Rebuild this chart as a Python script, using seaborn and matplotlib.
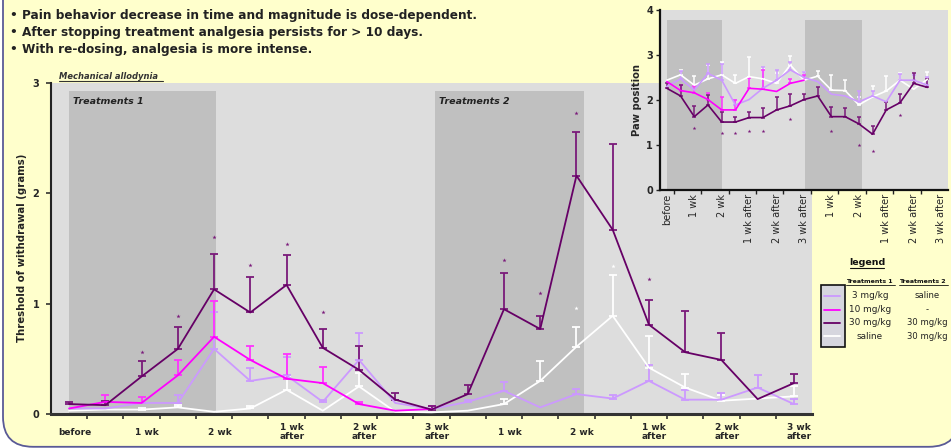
import numpy as np
import pandas as pd
import matplotlib
matplotlib.use("Agg")
import matplotlib.pyplot as plt
import seaborn as sns
from matplotlib.patches import FancyBboxPatch, Rectangle
from matplotlib.lines import Line2D

nan = np.nan

# ---------------- data ----------------
groups = ["saline", "3 mg/kg", "10 mg/kg", "30 mg/kg"]
colors = {"3 mg/kg": "#CC99FF", "10 mg/kg": "#FF00FF", "30 mg/kg": "#660066", "saline": "#FFFFFF"}
err_colors = {"3 mg/kg": "#CC99FF", "10 mg/kg": "#FF33FF", "30 mg/kg": "#7A1A7A", "saline": "#FFFFFF"}

main_labels = ["before", "1 wk", "2 wk", "1 wk\nafter", "2 wk\nafter", "3 wk\nafter",
               "1 wk", "2 wk", "1 wk\nafter", "2 wk\nafter", "3 wk\nafter"]
inset_labels = ["before", "1 wk", "2 wk", "1 wk after", "2 wk after", "3 wk after",
                "1 wk", "2 wk", "1 wk after", "2 wk after", "3 wk after"]

# Mechanical allodynia (grams) - mean and top of error bar
main_mean = {
    "30 mg/kg": [0.09, 0.08, 0.34, 0.59, 1.13, 0.92, 1.17, 0.60, 0.40, 0.13, 0.04,
                 0.18, 0.95, 0.77, 2.16, 1.67, 0.81, 0.56, 0.49, 0.135, 0.28],
    "10 mg/kg": [0.05, 0.11, 0.10, 0.35, 0.70, 0.49, 0.32, 0.28, 0.09, 0.03, 0.045,
                 nan, nan, nan, nan, nan, nan, nan, nan, nan, nan],
    "3 mg/kg":  [0.05, 0.05, 0.10, 0.10, 0.59, 0.30, 0.35, 0.11, 0.49, 0.10, 0.045,
                 0.11, 0.21, 0.06, 0.18, 0.14, 0.30, 0.13, 0.13, 0.24, 0.09],
    "saline":   [0.03, 0.04, 0.04, 0.06, 0.02, 0.05, 0.22, 0.03, 0.25, 0.02, 0.015,
                 0.03, 0.09, 0.30, 0.61, 0.89, 0.42, 0.24, 0.12, 0.14, 0.16],
}
main_top = {
    "30 mg/kg": [0.11, 0.12, 0.48, 0.79, 1.45, 1.24, 1.44, 0.77, 0.62, 0.19, 0.07,
                 0.26, 1.28, 0.89, 2.56, 2.45, 1.03, 0.93, 0.73, nan, 0.36],
    "10 mg/kg": [nan, 0.17, 0.15, 0.49, 1.02, 0.62, 0.54, 0.43, 0.11, nan, 0.07,
                 nan, nan, nan, nan, nan, nan, nan, nan, nan, nan],
    "3 mg/kg":  [nan, nan, nan, 0.17, 0.92, 0.42, 0.52, 0.13, 0.73, nan, nan,
                 0.13, 0.29, nan, 0.23, 0.17, 0.44, 0.22, 0.19, 0.35, 0.14],
    "saline":   [nan, nan, 0.05, 0.08, nan, 0.07, 0.34, nan, 0.37, nan, nan,
                 nan, 0.14, 0.48, 0.79, 1.26, 0.71, 0.36, 0.17, nan, 0.25],
}
main_star_dark_x = [2, 3, 4, 5, 6, 7, 12, 13, 14, 16]
main_star_dark_y = [0.56, 0.89, 1.60, 1.35, 1.54, 0.92, 1.40, 1.10, 2.73, 1.22]
main_star_white_x = [14, 15]
main_star_white_y = [0.96, 1.34]

# Paw position inset
inset_mean = {
    "30 mg/kg": [2.26, 2.09, 1.63, 1.89, 1.51, 1.51, 1.61, 1.61, 1.78, 1.87,
                 2.01, 2.09, 1.63, 1.63, 1.47, 1.24, 1.78, 1.94, 2.37, 2.28],
    "10 mg/kg": [2.41, 2.21, 2.16, 2.01, 1.78, 1.78, 2.26, 2.24, 2.19, 2.37,
                 2.44, nan, nan, nan, nan, nan, nan, nan, nan, nan],
    "3 mg/kg":  [2.30, 2.47, 2.22, 2.59, 2.44, 1.89, 2.01, 2.26, 2.44, 2.67,
                 2.50, 2.41, 2.13, 2.09, 1.96, 2.09, 1.96, 2.44, 2.44, 2.33],
    "saline":   [2.44, 2.56, 2.33, 2.47, 2.56, 2.37, 2.52, 2.47, 2.37, 2.78,
                 2.44, 2.53, 2.22, 2.21, 1.89, 2.07, 2.20, 2.44, 2.24, 2.46],
}
inset_top = {
    "30 mg/kg": [2.37, 2.33, 1.87, 2.11, 1.74, 1.63, 1.74, 1.83, 2.07, 2.13,
                 2.13, 2.28, 1.85, 1.83, 1.63, 1.43, 1.95, 2.13, 2.61, 2.47],
    "10 mg/kg": [nan, 2.33, 2.30, 2.16, 2.06, 2.01, 2.48, 2.67, nan, 2.46,
                 2.55, nan, nan, nan, nan, nan, nan, nan, nan, nan],
    "3 mg/kg":  [nan, 2.64, nan, 2.81, 2.80, 2.00, nan, 2.74, 2.67, 2.85,
                 2.63, nan, nan, nan, 2.19, 2.19, nan, 2.57, 2.55, 2.52],
    "saline":   [nan, 2.66, 2.53, 2.78, 2.85, 2.56, 2.96, 2.70, 2.59, 2.98,
                 2.63, 2.65, 2.56, 2.44, 2.07, 2.30, 2.53, 2.61, nan, 2.63],
}
inset_star_x = [2, 4, 5, 6, 7, 9, 12, 14, 15, 17]
inset_star_y = [1.37, 1.26, 1.26, 1.31, 1.31, 1.58, 1.31, 1.00, 0.87, 1.67]

treat_spans = [(0, 4.05), (10.1, 14.2)]

# ---------------- figure ----------------
sns.set_theme(style="white")
plt.rcParams["font.family"] = ["DejaVu Sans"]

W, H = 951, 448
fig = plt.figure(figsize=(W / 100, H / 100), dpi=100)
fig.patch.set_facecolor("white")

def px(x, y):
    return x / W, 1 - y / H

frame = FancyBboxPatch((0.03, 0.012), 9.56, 5.0,
                       boxstyle="round,pad=0,rounding_size=0.30",
                       transform=fig.dpi_scale_trans, facecolor="#FFFFCC",
                       edgecolor="#5A5A96", linewidth=1.3, zorder=-10)
fig.add_artist(frame)

def long_df(d, n):
    rows = []
    for g in groups:
        for i in range(n):
            rows.append({"x": i, "value": d[g][i], "group": g})
    return pd.DataFrame(rows)

def draw_errors(ax, mean, top, cap, lw):
    for g in groups:
        m = np.array(mean[g], dtype=float)
        t = np.array(top[g], dtype=float)
        ok = np.isfinite(m) & np.isfinite(t)
        xs = np.arange(len(m))[ok]
        ax.errorbar(xs, m[ok], yerr=[np.zeros(ok.sum()), t[ok] - m[ok]],
                    fmt="none", ecolor=err_colors[g], elinewidth=lw,
                    capsize=cap, capthick=lw, zorder=3)

# ---------------- main axes ----------------
ax = fig.add_axes([51 / W, 1 - 414 / H, (812 - 51) / W, (414 - 83) / H])
ax.set_facecolor("#DDDDDD")
n_main = len(main_mean["30 mg/kg"])
for a, b in treat_spans:
    ax.add_patch(Rectangle((a, 0), b - a, 2.93, facecolor="#C0C0C0",
                           edgecolor="none", zorder=0))

draw_errors(ax, main_mean, main_top, 2.6, 1.3)
df_main = long_df(main_mean, n_main)
sns.lineplot(data=df_main, x="x", y="value", hue="group", hue_order=groups,
             palette=colors, errorbar=None, legend=False, ax=ax,
             linewidth=1.3, zorder=4)
ax.scatter(main_star_dark_x, main_star_dark_y, marker="*", s=10,
           color="#7A1A7A", zorder=5, linewidths=0)
ax.scatter(main_star_white_x, main_star_white_y, marker="*", s=10,
           color="#FFFFFF", zorder=5, linewidths=0)

ax.set_xlim(-0.5, n_main - 0.5)
ax.set_ylim(0, 3)
ax.set_xlabel("")
ax.set_ylabel("")
ax.set_yticks([0, 1, 2, 3])
ax.set_yticklabels(["0", "1", "2", "3"], fontsize=7, fontweight="bold")
label_pos = np.arange(0, n_main, 2) + 0.15
ax.set_xticks(label_pos)
ax.set_xticklabels(main_labels, fontsize=6.5, fontweight="bold",
                   va="center", linespacing=1.0)
ax.set_xticks(np.arange(0.5, n_main - 1, 1), minor=True)
ax.tick_params(axis="x", which="major", length=0, pad=13)
ax.tick_params(axis="x", which="minor", length=3.5, width=1.1,
               color="#222222", direction="out", bottom=True)
ax.tick_params(axis="y", which="major", length=3.5, width=1.1,
               color="#222222", direction="out", left=True, pad=5)
for s in ["top", "right"]:
    ax.spines[s].set_visible(False)
ax.spines["left"].set_color("#222222")
ax.spines["left"].set_linewidth(1.5)
ax.spines["bottom"].set_color("#333333")
ax.spines["bottom"].set_linewidth(2.2)

ax.text(0.1, 2.83, "Treatments 1", fontsize=6.8, fontweight="bold",
        style="italic", color="#222222", va="center", ha="left", zorder=6)
ax.text(10.2, 2.83, "Treatments 2", fontsize=6.8, fontweight="bold",
        style="italic", color="#222222", va="center", ha="left", zorder=6)

# ---------------- inset axes ----------------
axi = fig.add_axes([660 / W, 1 - 190 / H, (948 - 660) / W, 180 / H])
axi.set_facecolor("#DDDDDD")
n_in = len(inset_mean["30 mg/kg"])
for a, b in treat_spans:
    axi.add_patch(Rectangle((a, 0), b - a, 3.78, facecolor="#C0C0C0",
                            edgecolor="none", zorder=0))
draw_errors(axi, inset_mean, inset_top, 1.6, 1.1)
df_in = long_df(inset_mean, n_in)
sns.lineplot(data=df_in, x="x", y="value", hue="group", hue_order=groups,
             palette=colors, errorbar=None, legend=False, ax=axi,
             linewidth=1.2, zorder=4)
axi.scatter(inset_star_x, inset_star_y, marker="*", s=8, color="#7A1A7A",
            zorder=5, linewidths=0)
axi.set_xlim(-0.5, 20.5)
axi.set_ylim(0, 4)
axi.set_xlabel("")
axi.set_ylabel("Paw position", fontsize=7.2, labelpad=3, fontweight="semibold")
axi.set_yticks([0, 1, 2, 3, 4])
axi.set_yticklabels(["0", "1", "2", "3", "4"], fontsize=7, fontweight="bold")
axi.set_xticks(np.arange(0, 21, 2))
axi.set_xticklabels(inset_labels, rotation=90, fontsize=7, va="top", ha="center")
axi.set_xticks(np.arange(0.5, 20, 2), minor=True)
axi.tick_params(axis="x", which="major", length=0, pad=3)
axi.tick_params(axis="x", which="minor", length=3, width=1.0,
                color="#222222", direction="out", bottom=True)
axi.tick_params(axis="y", which="major", length=3, width=1.0,
                color="#222222", direction="out", left=True, pad=2)
for s in ["top", "right"]:
    axi.spines[s].set_visible(False)
for s in ["left", "bottom"]:
    axi.spines[s].set_color("#111111")
    axi.spines[s].set_linewidth(1.6)

# ---------------- texts ----------------
bullets = ["• Pain behavior decrease in time and magnitude is dose-dependent.",
           "• After stopping treatment analgesia persists for > 10 days.",
           "• With re-dosing, analgesia is more intense."]
for i, t in enumerate(bullets):
    fig.text(*px(10, 15 + 17.5 * i), t, fontsize=8.7, fontweight="bold",
             color="#222222", va="center", ha="left")

fig.text(*px(59, 76), "Mechanical allodynia", fontsize=6, fontweight="bold",
         style="italic", color="#333333", va="center", ha="left")
fig.add_artist(Line2D([59 / W, 163 / W], [1 - 81 / H, 1 - 81 / H],
                      color="#333333", linewidth=0.8, transform=fig.transFigure))

fig.text(*px(22, 248), "Threshold of withdrawal (grams)", fontsize=7.3,
         fontweight="bold", rotation=90, va="center", ha="center",
         color="#222222")

# ---------------- legend ----------------
fig.text(*px(867, 262), "legend", fontsize=6.8, fontweight="bold",
         ha="center", va="center", color="#111111")
fig.add_artist(Line2D([850 / W, 884 / W], [1 - 268 / H, 1 - 268 / H],
                      color="#111111", linewidth=0.8, transform=fig.transFigure))
fig.text(*px(846, 281), "Treatments 1", fontsize=4.5, fontweight="bold",
         ha="left", va="center", color="#111111")
fig.add_artist(Line2D([846 / W, 895 / W], [1 - 284.5 / H, 1 - 284.5 / H],
                      color="#111111", linewidth=0.6, transform=fig.transFigure))
fig.text(*px(899, 281), "Treatments 2", fontsize=4.5, fontweight="bold",
         ha="left", va="center", color="#111111")
fig.add_artist(Line2D([899 / W, 948 / W], [1 - 284.5 / H, 1 - 284.5 / H],
                      color="#111111", linewidth=0.6, transform=fig.transFigure))

fig.add_artist(Rectangle(px(821, 347), 24 / W, 62 / H, facecolor="#D6D6DE",
                         edgecolor="#111111", linewidth=1.2,
                         transform=fig.transFigure))
legend_rows_y = [296, 309.5, 322.5, 336]
legend_t1 = ["3 mg/kg", "10 mg/kg", "30 mg/kg", "saline"]
legend_t2 = ["saline", "-", "30 mg/kg", "30 mg/kg"]
legend_groups = ["3 mg/kg", "10 mg/kg", "30 mg/kg", "saline"]
for yy, g, t1, t2 in zip(legend_rows_y, legend_groups, legend_t1, legend_t2):
    fig.add_artist(Line2D([824 / W, 840 / W], [1 - yy / H, 1 - yy / H],
                          color=colors[g], linewidth=1.3,
                          transform=fig.transFigure))
    fig.text(*px(870, yy), t1, fontsize=6.4, ha="center", va="center",
             color="#222222")
    fig.text(*px(927, yy), t2, fontsize=6.1, ha="center", va="center",
             color="#222222")

fig.savefig("out.png", dpi=100, facecolor=fig.get_facecolor())
